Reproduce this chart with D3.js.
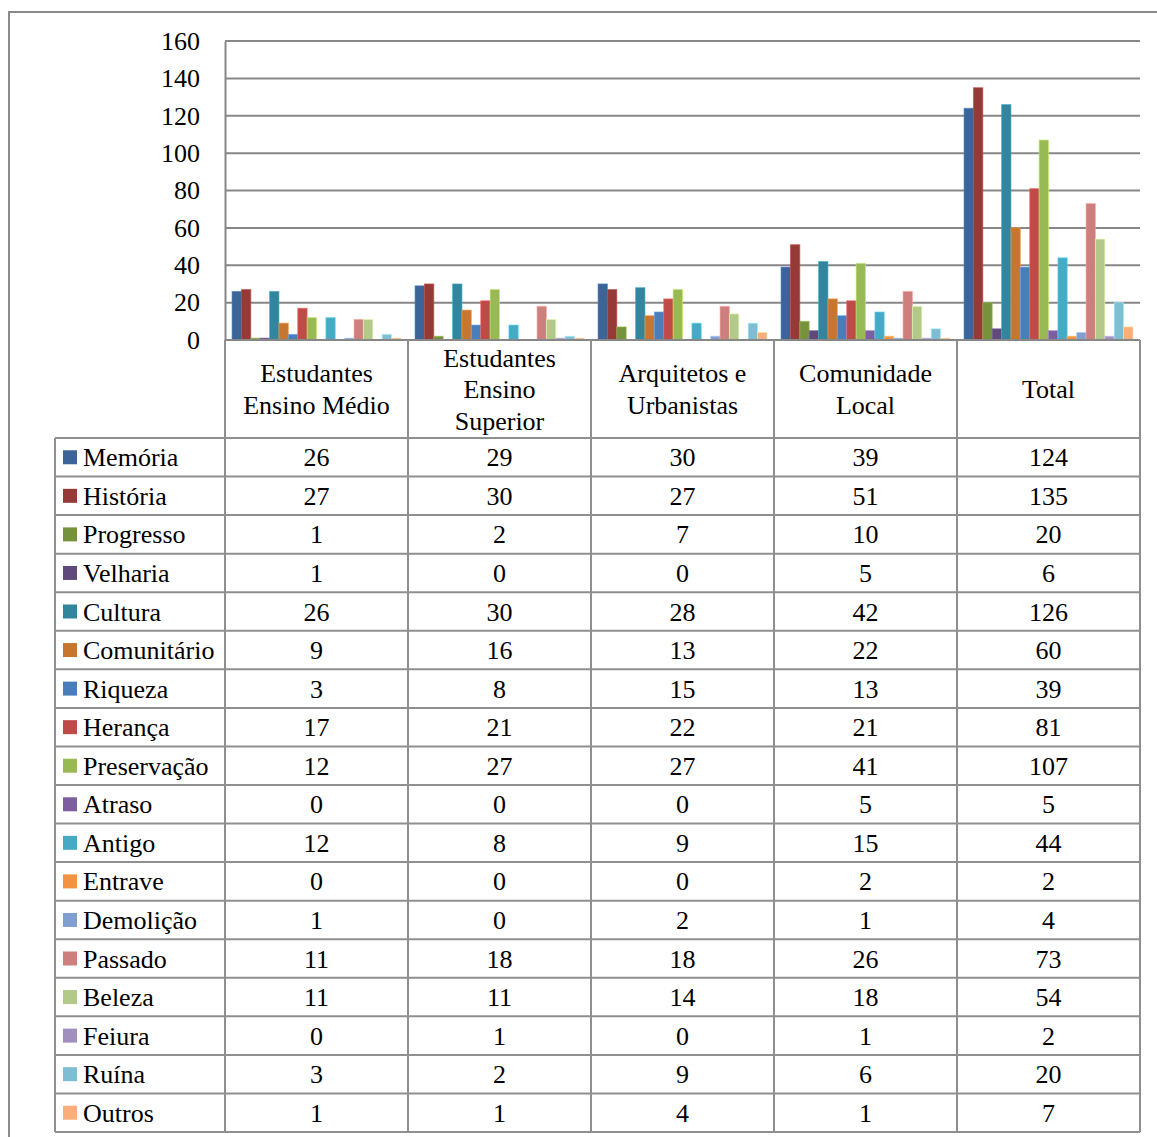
<!DOCTYPE html>
<html>
<head>
<meta charset="utf-8">
<script src="https://cdn.jsdelivr.net/npm/d3@7"></script>
<style>
  html, body { margin: 0; padding: 0; background: #fff; }
  svg { display: block; }
  text { font-family: "Liberation Serif", "Times New Roman", serif; fill: #000; }
</style>
</head>
<body>
<svg id="chart" width="1157" height="1137"></svg>
<script>
// Groups of respondents (columns of the chart and the data table)
const categories = [
  ["Estudantes", "Ensino Médio"],
  ["Estudantes", "Ensino", "Superior"],
  ["Arquitetos e", "Urbanistas"],
  ["Comunidade", "Local"],
  ["Total"]
];

// Words associated with the subject (one series each)
const seriesNames = [
  "Memória", "História", "Progresso", "Velharia", "Cultura", "Comunitário",
  "Riqueza", "Herança", "Preservação", "Atraso", "Antigo", "Entrave",
  "Demolição", "Passado", "Beleza", "Feiura", "Ruína", "Outros"
];

// Counts per series, one value per group
const memoria     = [26, 29, 30, 39, 124];
const historia    = [27, 30, 27, 51, 135];
const progresso   = [1, 2, 7, 10, 20];
const velharia    = [1, 0, 0, 5, 6];
const cultura     = [26, 30, 28, 42, 126];
const comunitario = [9, 16, 13, 22, 60];
const riqueza     = [3, 8, 15, 13, 39];
const heranca     = [17, 21, 22, 21, 81];
const preservacao = [12, 27, 27, 41, 107];
const atraso      = [0, 0, 0, 5, 5];
const antigo      = [12, 8, 9, 15, 44];
const entrave     = [0, 0, 0, 2, 2];
const demolicao   = [1, 0, 2, 1, 4];
const passado     = [11, 18, 18, 26, 73];
const beleza      = [11, 11, 14, 18, 54];
const feiura      = [0, 1, 0, 1, 2];
const ruina       = [3, 2, 9, 6, 20];
const outros      = [1, 1, 4, 1, 7];

const seriesValues = [
  memoria, historia, progresso, velharia, cultura, comunitario,
  riqueza, heranca, preservacao, atraso, antigo, entrave,
  demolicao, passado, beleza, feiura, ruina, outros
];

const yTicks = [0, 20, 40, 60, 80, 100, 120, 140, 160];

const seriesColors = [
  "#3b6497", "#963a38", "#77923d", "#5f4a7b", "#31859c", "#c6762f",
  "#4a7ebb", "#be4b48", "#98b954", "#7d5fa0", "#46aac5", "#f39240",
  "#7f9fd0", "#cd7f7d", "#b2c98a", "#a090bd", "#7fbdd3", "#f9ae7c"
];

const svg = d3.select("#chart");
const gridColor = "#878787";
const tableColor = "#8f8f8f";

// Outer frame
svg.append("path")
  .attr("d", "M9,1137 V12 H1157")
  .attr("fill", "none")
  .attr("stroke", "#8a8a8a")
  .attr("stroke-width", 2);

// Plot geometry
const plotLeft = 225, plotRight = 1140, plotTop = 41, plotBottom = 340;

const x0 = d3.scaleBand()
  .domain(d3.range(categories.length))
  .range([plotLeft, plotRight])
  .paddingInner(0).paddingOuter(0);

const x1 = d3.scaleBand()
  .domain(d3.range(seriesNames.length))
  .range([0, x0.bandwidth()])
  .paddingInner(0).paddingOuter(0.75);

const y = d3.scaleLinear().domain([0, 160]).range([plotBottom, plotTop]);

// Horizontal gridlines
svg.append("g")
  .selectAll("line")
  .data(yTicks)
  .join("line")
  .attr("x1", plotLeft).attr("x2", plotRight)
  .attr("y1", d => y(d)).attr("y2", d => y(d))
  .attr("stroke", gridColor).attr("stroke-width", 2);

// Y axis labels
const yAxis = d3.axisLeft(y).tickValues(yTicks).tickSize(0).tickPadding(25);
const yG = svg.append("g").attr("transform", `translate(${plotLeft},0)`).call(yAxis);
yG.select(".domain").attr("stroke", gridColor).attr("stroke-width", 2);
yG.selectAll("text")
  .attr("font-family", "Liberation Serif")
  .attr("font-size", 26)
  .attr("fill", "#000");

// Bars
const groups = svg.append("g")
  .selectAll("g")
  .data(categories.map((c, i) => i))
  .join("g")
  .attr("transform", i => `translate(${x0(i)},0)`);

groups.selectAll("rect")
  .data(ci => seriesValues.map((vals, si) => ({ si, v: vals[ci] })))
  .join("rect")
  .attr("x", d => x1(d.si))
  .attr("width", x1.bandwidth())
  .attr("y", d => y(d.v))
  .attr("height", d => y(0) - y(d.v))
  .attr("fill", d => seriesColors[d.si])
  .attr("stroke", d => d3.color(seriesColors[d.si]).brighter(0.7))
  .attr("stroke-opacity", 0.6)
  .attr("stroke-width", 1);

// Baseline over bars
svg.append("line")
  .attr("x1", plotLeft).attr("x2", plotRight)
  .attr("y1", y(0)).attr("y2", y(0))
  .attr("stroke", gridColor).attr("stroke-width", 2);

// Data table
const tableLeft = 55, headerBottom = 438, tableBottom = 1132;
const rowH = (tableBottom - headerBottom) / seriesNames.length;
const table = svg.append("g");

// Horizontal rules of the table
table.selectAll("line.h")
  .data(d3.range(seriesNames.length + 1))
  .join("line")
  .attr("class", "h")
  .attr("x1", tableLeft).attr("x2", plotRight)
  .attr("y1", i => headerBottom + i * rowH)
  .attr("y2", i => headerBottom + i * rowH)
  .attr("stroke", tableColor).attr("stroke-width", 2);

// Vertical rules: category boundaries span header and body
const bounds = d3.range(categories.length + 1).map(i =>
  i < categories.length ? x0(i) : x0(categories.length - 1) + x0.bandwidth());
table.selectAll("line.v")
  .data(bounds)
  .join("line")
  .attr("class", "v")
  .attr("x1", d => d).attr("x2", d => d)
  .attr("y1", plotBottom).attr("y2", tableBottom)
  .attr("stroke", tableColor).attr("stroke-width", 2);

table.append("line")
  .attr("x1", tableLeft).attr("x2", tableLeft)
  .attr("y1", headerBottom).attr("y2", tableBottom)
  .attr("stroke", tableColor).attr("stroke-width", 2);

// Header labels
const lineH = 31.5;
categories.forEach((lines, ci) => {
  const cx = x0(ci) + x0.bandwidth() / 2;
  const cy = (plotBottom + headerBottom) / 2;
  const t = table.append("text")
    .attr("text-anchor", "middle")
    .attr("font-size", 26);
  lines.forEach((ln, li) => {
    t.append("tspan")
      .attr("x", cx)
      .attr("y", cy + (li - (lines.length - 1) / 2) * lineH)
      .attr("dy", "0.35em")
      .text(ln);
  });
});

// Rows: legend key + values
seriesNames.forEach((name, si) => {
  const cy = headerBottom + (si + 0.5) * rowH;
  table.append("rect")
    .attr("x", 63).attr("y", cy - 7)
    .attr("width", 14).attr("height", 14)
    .attr("fill", seriesColors[si]);
  table.append("text")
    .attr("x", 83).attr("y", cy).attr("dy", "0.35em")
    .attr("font-size", 26)
    .text(name);
  seriesValues[si].forEach((v, ci) => {
    table.append("text")
      .attr("x", x0(ci) + x0.bandwidth() / 2)
      .attr("y", cy).attr("dy", "0.35em")
      .attr("text-anchor", "middle")
      .attr("font-size", 26)
      .text(v);
  });
});
</script>
</body>
</html>
